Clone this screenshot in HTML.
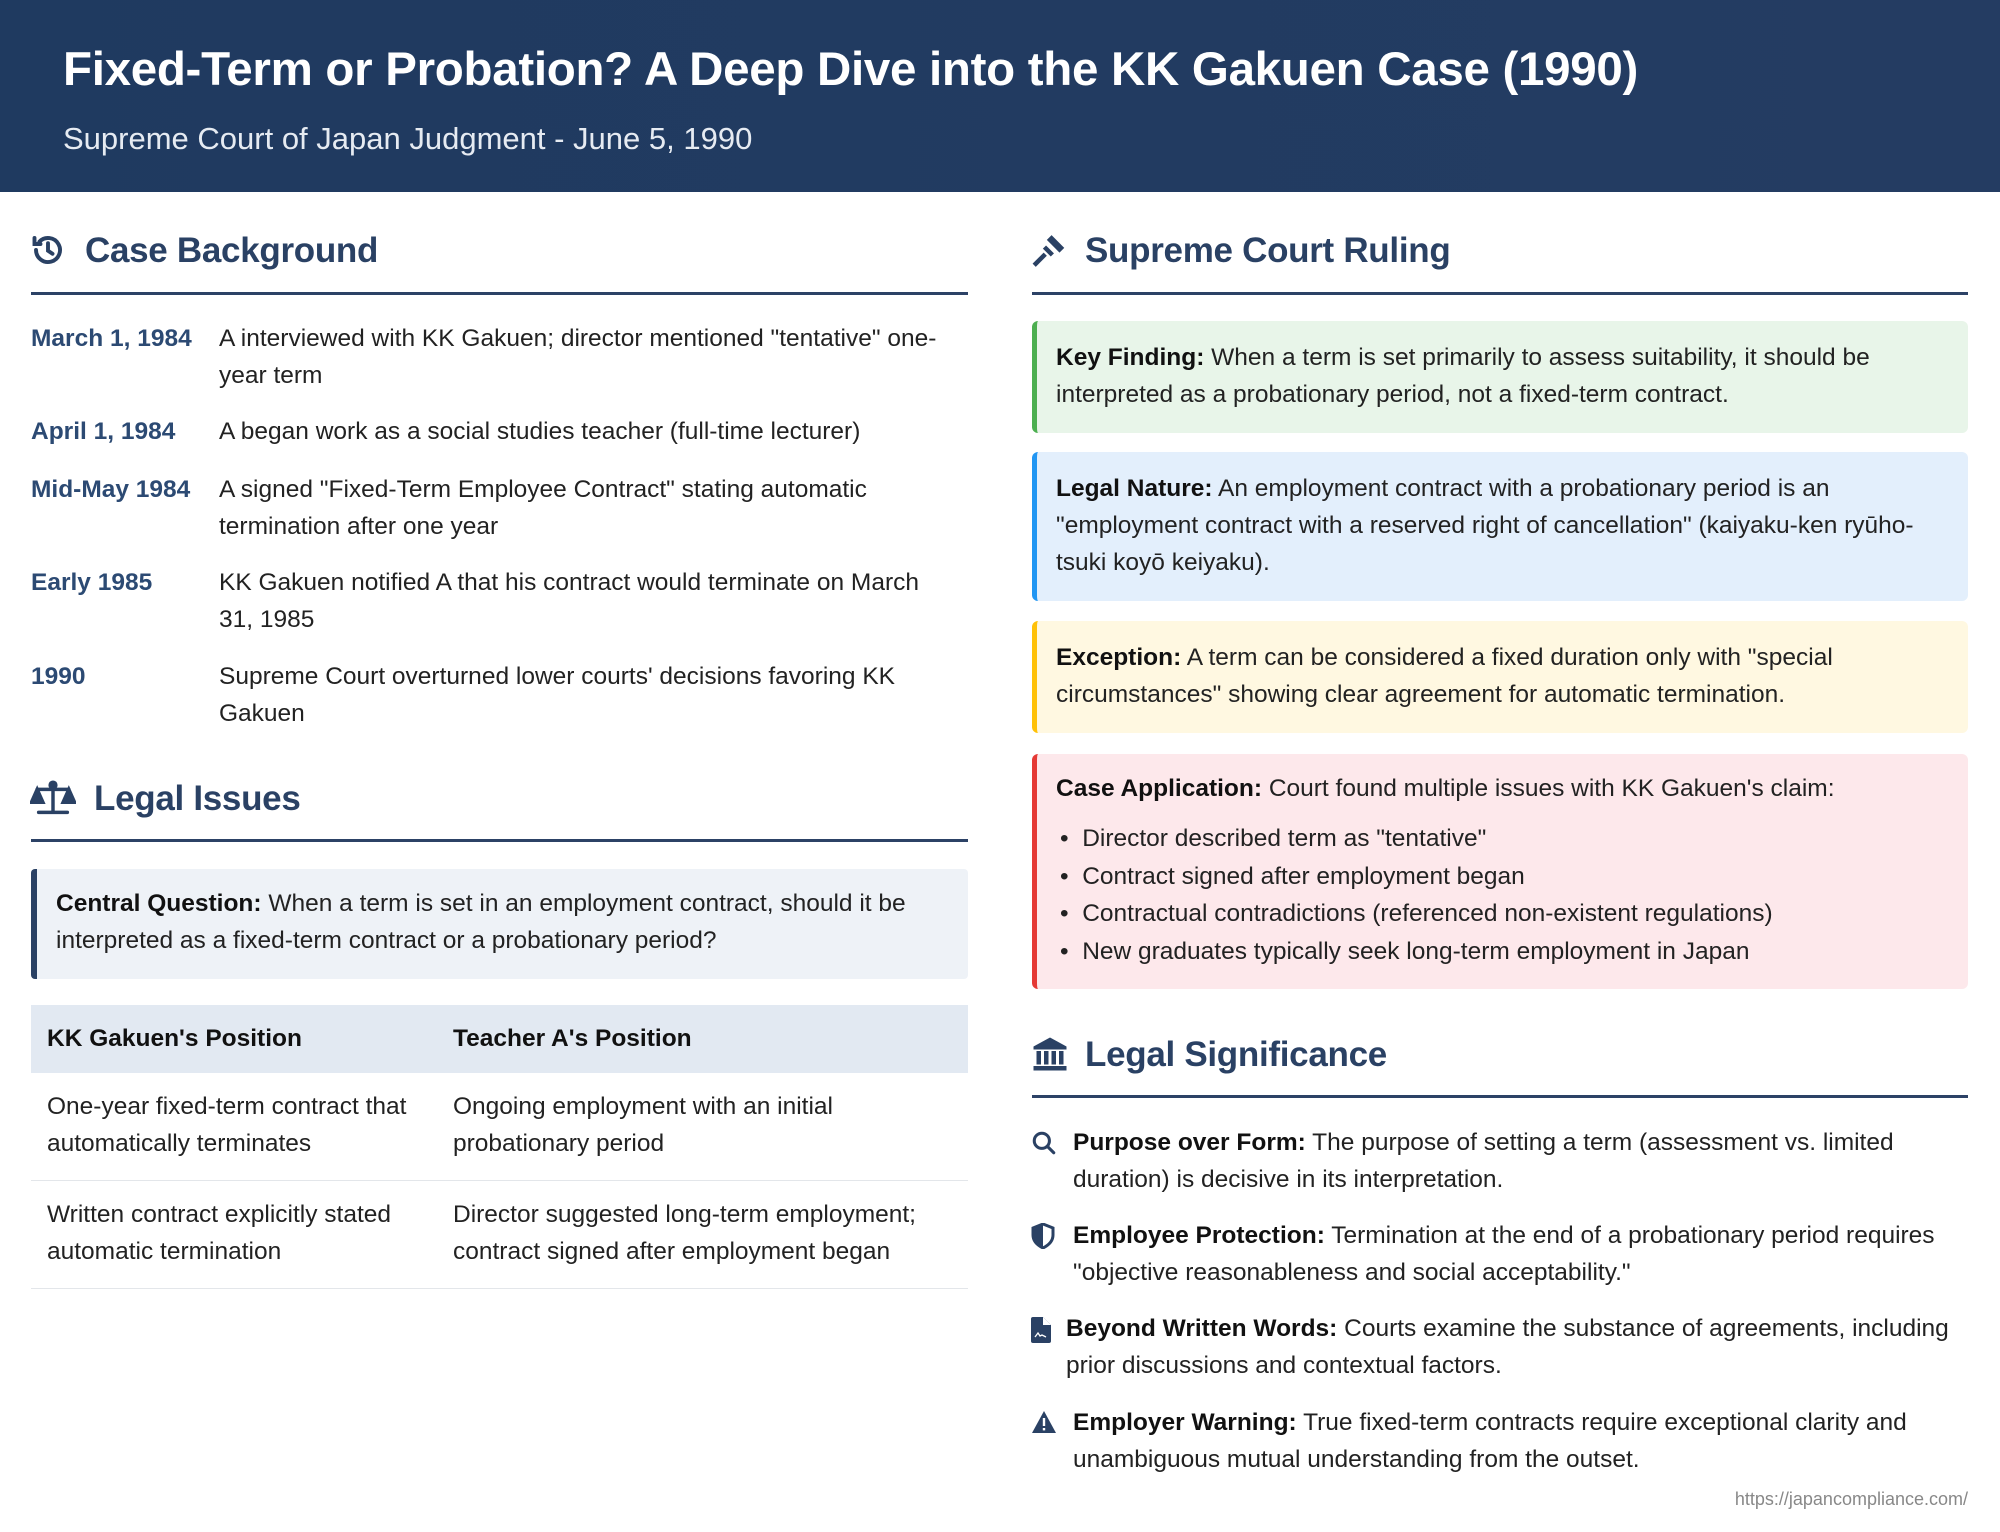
<!DOCTYPE html>
<html><head><meta charset="utf-8"><style>
*{margin:0;padding:0;box-sizing:border-box}
body{width:2000px;height:1532px;background:#fff;font-family:"Liberation Sans",Arial,sans-serif;color:#222;position:relative;overflow:hidden}
.hdr{position:absolute;left:0;top:0;width:2000px;height:192px;background:linear-gradient(90deg,#1f3a60,#243c62)}
.t{position:absolute;left:63px;top:42px;font-size:47.5px;font-weight:bold;color:#fff;letter-spacing:-0.3px;white-space:nowrap}
.st{position:absolute;left:63px;top:121px;font-size:31px;color:#e6ebf2;white-space:nowrap}
.h{position:absolute;font-size:35px;font-weight:bold;color:#2a4164;white-space:nowrap;letter-spacing:-0.3px}
.rule{position:absolute;height:3px;background:#2c4266}
.a{position:absolute;font-size:24.5px;line-height:37px;white-space:nowrap;color:#222}
.d{position:absolute;font-size:24.5px;line-height:37px;font-weight:bold;color:#2c4a73;white-space:nowrap}
.box{position:absolute;left:1032px;width:936px;border-radius:6px;border-left:5px solid}
b{font-weight:bold;color:#111}
.ico{position:absolute}
</style></head><body>
<div class="hdr"></div>
<div class="t">Fixed-Term or Probation? A Deep Dive into the KK Gakuen Case (1990)</div>
<div class="st">Supreme Court of Japan Judgment - June 5, 1990</div>

<svg class="ico" style="left:30px;top:232px" width="36" height="36" viewBox="0 0 24 24" fill="none" stroke="#2a4164" stroke-width="2.6" stroke-linecap="round"><path d="M4 12a8 8 0 1 0 2.3-5.6"/><path d="M3 4v4h4"/><path d="M12 7.5v5l3 2"/></svg>
<div class="h" style="left:85px;top:231px">Case Background</div>
<div class="rule" style="left:31px;top:292px;width:937px"></div>

<div class="d" style="left:31px;top:320px">March 1, 1984</div>
<div class="a" style="left:219px;top:320px">A interviewed with KK Gakuen; director mentioned "tentative" one-<br>year term</div>
<div class="d" style="left:31px;top:413px">April 1, 1984</div>
<div class="a" style="left:219px;top:413px">A began work as a social studies teacher (full-time lecturer)</div>
<div class="d" style="left:31px;top:471px">Mid-May 1984</div>
<div class="a" style="left:219px;top:471px">A signed "Fixed-Term Employee Contract" stating automatic<br>termination after one year</div>
<div class="d" style="left:31px;top:564px">Early 1985</div>
<div class="a" style="left:219px;top:564px">KK Gakuen notified A that his contract would terminate on March<br>31, 1985</div>
<div class="d" style="left:31px;top:658px">1990</div>
<div class="a" style="left:219px;top:658px">Supreme Court overturned lower courts' decisions favoring KK<br>Gakuen</div>

<svg class="ico" style="left:30px;top:780px" width="46" height="36" viewBox="0 0 32 24" fill="none" stroke="#2a4164" stroke-width="2.4" stroke-linecap="round"><path d="M16 2v20M6 22h20M5 6h22"/><path d="M5 6l-4 9h8z M27 6l-4 9h8z" fill="#2a4164"/><circle cx="16" cy="3" r="2" fill="#2a4164"/></svg>
<div class="h" style="left:94px;top:779px">Legal Issues</div>
<div class="rule" style="left:31px;top:839px;width:937px"></div>

<div style="position:absolute;left:31px;top:869px;width:937px;height:110px;background:#eef2f7;border-left:6px solid #2a4164;border-radius:4px"></div>
<div class="a" style="left:56px;top:885px"><b>Central Question:</b> When a term is set in an employment contract, should it be<br>interpreted as a fixed-term contract or a probationary period?</div>

<div style="position:absolute;left:31px;top:1005px;width:937px;height:68px;background:#e2e9f2"></div>
<div class="a" style="left:47px;top:1020px;font-weight:bold;color:#111">KK Gakuen's Position</div>
<div class="a" style="left:453px;top:1020px;font-weight:bold;color:#111">Teacher A's Position</div>
<div class="a" style="left:47px;top:1088px">One-year fixed-term contract that<br>automatically terminates</div>
<div class="a" style="left:453px;top:1088px">Ongoing employment with an initial<br>probationary period</div>
<div style="position:absolute;left:31px;top:1180px;width:937px;height:1px;background:#e3e6ea"></div>
<div class="a" style="left:47px;top:1196px">Written contract explicitly stated<br>automatic termination</div>
<div class="a" style="left:453px;top:1196px">Director suggested long-term employment;<br>contract signed after employment began</div>
<div style="position:absolute;left:31px;top:1288px;width:937px;height:1px;background:#e3e6ea"></div>

<svg class="ico" style="left:1031px;top:232px" width="38" height="38" viewBox="0 0 24 24" fill="#2a4164"><path d="M13 2l8 8-3 3-8-8z"/><path d="M9.5 8.5l5 5-2 2-5-5z" /><path d="M8 13l2 2-7 7-2-2z"/></svg>
<div class="h" style="left:1085px;top:231px">Supreme Court Ruling</div>
<div class="rule" style="left:1032px;top:292px;width:936px"></div>

<div class="box" style="top:321px;height:112px;background:#e8f5e9;border-color:#4caf50"></div>
<div class="a" style="left:1056px;top:339px"><b>Key Finding:</b> When a term is set primarily to assess suitability, it should be<br>interpreted as a probationary period, not a fixed-term contract.</div>

<div class="box" style="top:452px;height:149px;background:#e3effc;border-color:#2196f3"></div>
<div class="a" style="left:1056px;top:470px"><b>Legal Nature:</b> An employment contract with a probationary period is an<br>"employment contract with a reserved right of cancellation" (kaiyaku-ken ryūho-<br>tsuki koyō keiyaku).</div>

<div class="box" style="top:621px;height:112px;background:#fff8e1;border-color:#ffc107"></div>
<div class="a" style="left:1056px;top:639px"><b>Exception:</b> A term can be considered a fixed duration only with "special<br>circumstances" showing clear agreement for automatic termination.</div>

<div class="box" style="top:754px;height:235px;background:#fde8eb;border-color:#e53935"></div>
<div class="a" style="left:1056px;top:770px"><b>Case Application:</b> Court found multiple issues with KK Gakuen's claim:</div>
<div class="a" style="left:1060px;top:820px;line-height:37.5px">•&nbsp;&nbsp;Director described term as "tentative"<br>•&nbsp;&nbsp;Contract signed after employment began<br>•&nbsp;&nbsp;Contractual contradictions (referenced non-existent regulations)<br>•&nbsp;&nbsp;New graduates typically seek long-term employment in Japan</div>

<svg class="ico" style="left:1031px;top:1036px" width="38" height="36" viewBox="0 0 24 24" fill="#2a4164"><path d="M12 1L1 7v2h22V7z"/><rect x="3" y="10" width="3" height="9"/><rect x="8" y="10" width="3" height="9"/><rect x="13" y="10" width="3" height="9"/><rect x="18" y="10" width="3" height="9"/><rect x="1" y="20" width="22" height="3"/></svg>
<div class="h" style="left:1085px;top:1035px">Legal Significance</div>
<div class="rule" style="left:1032px;top:1095px;width:936px"></div>

<svg class="ico" style="left:1031px;top:1130px" width="26" height="26" viewBox="0 0 24 24" fill="none" stroke="#2a4164" stroke-width="2.8" stroke-linecap="round"><circle cx="10" cy="10" r="7"/><path d="M15 15l6 6"/></svg>
<div class="a" style="left:1073px;top:1124px"><b>Purpose over Form:</b> The purpose of setting a term (assessment vs. limited<br>duration) is decisive in its interpretation.</div>

<svg class="ico" style="left:1031px;top:1223px" width="24" height="26" viewBox="0 0 24 26"><path d="M12 1L2 5v7c0 6 4 10 10 13 6-3 10-7 10-13V5z" fill="none" stroke="#2a4164" stroke-width="3"/><path d="M12 2v22c-5-3-9-6-9-12V6z" fill="#2a4164"/></svg>
<div class="a" style="left:1073px;top:1217px"><b>Employee Protection:</b> Termination at the end of a probationary period requires<br>"objective reasonableness and social acceptability."</div>

<svg class="ico" style="left:1031px;top:1317px" width="20" height="26" viewBox="0 0 20 26"><path d="M0 2a2 2 0 0 1 2-2h10l8 8v16a2 2 0 0 1-2 2H2a2 2 0 0 1-2-2z" fill="#2a4164"/><path d="M12 0v8h8" fill="#fff"/><path d="M4 20l3-4 2 3 2-1 4 2" stroke="#fff" stroke-width="1.3" fill="none"/></svg>
<div class="a" style="left:1066px;top:1310px"><b>Beyond Written Words:</b> Courts examine the substance of agreements, including<br>prior discussions and contextual factors.</div>

<svg class="ico" style="left:1031px;top:1410px" width="26" height="24" viewBox="0 0 26 24"><path d="M13 1L1 23h24z" fill="#2a4164"/><rect x="11.8" y="8" width="2.4" height="8" fill="#fff"/><rect x="11.8" y="18" width="2.4" height="2.4" fill="#fff"/></svg>
<div class="a" style="left:1073px;top:1404px"><b>Employer Warning:</b> True fixed-term contracts require exceptional clarity and<br>unambiguous mutual understanding from the outset.</div>

<div style="position:absolute;right:32px;top:1489px;font-size:18px;color:#888">https://japancompliance.com/</div>
</body></html>
